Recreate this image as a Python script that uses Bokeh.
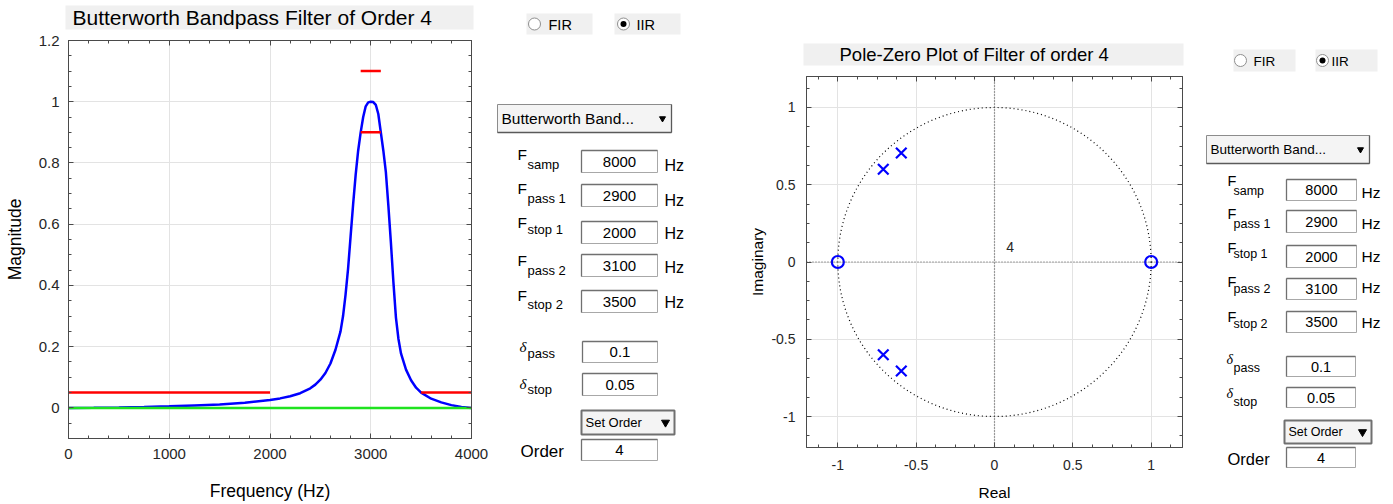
from bokeh.plotting import figure
from bokeh.layouts import row, column
from bokeh.models import Range1d, LinearAxis, FixedTicker, Span
from bokeh.core.properties import value
from bokeh.embed import file_html
from bokeh.resources import INLINE

FONT = "Liberation Sans"
SERIF = "Liberation Serif"
AX = "#4a4a4a"
TICKC = "#262626"
GRIDC = "#e3e3e3"

# ---------------- data: magnitude response ----------------
freq_hz = [0, 250, 500, 750, 1000, 1250, 1500, 1750, 2000, 2100, 2200, 2300, 2400,
           2450, 2500, 2550, 2600, 2650, 2700, 2725, 2750, 2775, 2800, 2825, 2850,
           2875, 2900, 2925, 2950, 2975, 3000, 3025, 3050, 3075, 3100, 3125, 3150,
           3175, 3200, 3225, 3250, 3275, 3300, 3350, 3400, 3450, 3500, 3600, 3700,
           3800, 3900, 4000]
magnitude = [0.0, 0.0005, 0.0012, 0.0028, 0.005, 0.008, 0.011, 0.017, 0.026, 0.031,
             0.038, 0.048, 0.064, 0.076, 0.092, 0.114, 0.145, 0.190, 0.250, 0.300,
             0.370, 0.455, 0.560, 0.665, 0.760, 0.840, 0.900, 0.950, 0.985, 0.998,
             1.000, 0.999, 0.990, 0.960, 0.900, 0.840, 0.770, 0.660, 0.540, 0.410,
             0.295, 0.225, 0.178, 0.125, 0.090, 0.066, 0.050, 0.030, 0.018, 0.009,
             0.003, 0.0]
pass_band_hz = [2900, 3100]
pass_upper = 1.1
pass_lower = 0.9
stop1_hz = [0, 2000]
stop2_hz = [3500, 4000]
stop_level = 0.05
zero_line_hz = [0, 4000]
zero_line_mag = [0, 0]

x1_ticks = [0, 1000, 2000, 3000, 4000]
x1_tick_labels = ["0", "1000", "2000", "3000", "4000"]
x1_minor = [200, 400, 600, 800, 1200, 1400, 1600, 1800, 2200, 2400, 2600, 2800,
            3200, 3400, 3600, 3800]
y1_ticks = [0, 0.2, 0.4, 0.6, 0.8, 1.0, 1.2]
y1_tick_labels = ["0", "0.2", "0.4", "0.6", "0.8", "1", "1.2"]
y1_minor = [-0.05, 0.05, 0.1, 0.15, 0.25, 0.3, 0.35, 0.45, 0.5, 0.55, 0.65, 0.7, 0.75,
            0.85, 0.9, 0.95, 1.05, 1.1, 1.15]

# ---------------- data: pole-zero ----------------
pole_re = [-0.71, -0.595, -0.71, -0.595]
pole_im = [0.60, 0.705, -0.60, -0.705]
zero_re = [-1.0, 1.0]
zero_im = [0.0, 0.0]
zero_mult_text = "4"
zero_mult_re = 0.1
zero_mult_im = 0.1
pz_ticks = [-1, -0.5, 0, 0.5, 1]
pz_tick_labels = ["-1", "-0.5", "0", "0.5", "1"]
pz_minor = [-1.125, -0.875, -0.75, -0.625, -0.375, -0.25, -0.125, 0.125, 0.25, 0.375,
            0.625, 0.75, 0.875, 1.125]

# ---------------- control panel texts ----------------
title_mag = "Butterworth Bandpass Filter of Order 4"
title_pz = "Pole-Zero Plot of Filter of order 4"
filter_types = ["FIR", "IIR"]
selected_type = "IIR"
design_choice = "Butterworth Band..."
param_main = ["F", "F", "F", "F", "F"]
param_subs = ["samp", "pass 1", "stop 1", "pass 2", "stop 2"]
param_values = ["8000", "2900", "2000", "3100", "3500"]
param_unit = "Hz"
delta_subs = ["pass", "stop"]
delta_values = ["0.1", "0.05"]
order_mode = "Set Order"
order_label = "Order"
order_value = "4"


def no_align(p):
    if hasattr(p, "frame_align"):
        p.frame_align = False


def style_axis(ax, ticker, labels_map, tick_fs, show_labels, label="", label_fs="16px",
               standoff=8, label_standoff=10):
    ax.ticker = ticker
    ax.axis_line_color = AX
    ax.axis_line_width = 1
    ax.major_tick_in = 5
    ax.major_tick_out = 0
    ax.minor_tick_in = 3
    ax.minor_tick_out = 0
    ax.major_tick_line_color = AX
    ax.minor_tick_line_color = AX
    if show_labels:
        ax.major_label_overrides = labels_map
        ax.major_label_text_font = FONT
        ax.major_label_text_font_size = tick_fs
        ax.major_label_text_color = TICKC
        ax.major_label_standoff = standoff
        ax.axis_label = label
        ax.axis_label_text_font = FONT
        ax.axis_label_text_font_size = label_fs
        ax.axis_label_text_font_style = "normal"
        ax.axis_label_text_color = "#000000"
        ax.axis_label_standoff = label_standoff
    else:
        ax.major_label_overrides = {t: "" for t in labels_map}
        ax.major_label_text_font_size = "0px"
        ax.major_label_standoff = 0
        ax.axis_label = None


def data_fig(width, height, xr, yr, borders, xt, xlabels, xminor, yt, ylabels, yminor,
             tick_fs, label_fs, xlabel, ylabel, xs, xls, ys, yls):
    p = figure(width=width, height=height, x_range=Range1d(*xr), y_range=Range1d(*yr),
               output_backend="svg", toolbar_location=None)
    no_align(p)
    p.min_border_left, p.min_border_right, p.min_border_top, p.min_border_bottom = borders
    p.outline_line_color = AX
    p.background_fill_color = "white"
    p.border_fill_color = "white"
    xtk = FixedTicker(ticks=xt, minor_ticks=xminor)
    ytk = FixedTicker(ticks=yt, minor_ticks=yminor)
    style_axis(p.xaxis[0], xtk, dict(zip(xt, xlabels)), tick_fs, True, xlabel, label_fs, xs, xls)
    style_axis(p.yaxis[0], ytk, dict(zip(yt, ylabels)), tick_fs, True, ylabel, label_fs, ys, yls)
    top = LinearAxis()
    style_axis(top, xtk, dict(zip(xt, xlabels)), tick_fs, False)
    p.add_layout(top, "above")
    right = LinearAxis()
    style_axis(right, ytk, dict(zip(yt, ylabels)), tick_fs, False)
    p.add_layout(right, "right")
    p.xgrid.ticker = xtk
    p.ygrid.ticker = ytk
    p.xgrid.grid_line_color = GRIDC
    p.ygrid.grid_line_color = GRIDC
    return p


def canvas(x0, x1, y0, y1):
    c = figure(width=x1 - x0, height=y1 - y0, x_range=Range1d(x0, x1), y_range=Range1d(y1, y0),
               output_backend="svg", toolbar_location=None, x_axis_type=None, y_axis_type=None)
    no_align(c)
    c.min_border_left = c.min_border_right = c.min_border_top = c.min_border_bottom = 0
    c.outline_line_color = None
    c.background_fill_color = "white"
    c.border_fill_color = "white"
    return c


def txt(c, x, y, s, size, align="left", font=FONT, style="normal", color="#000000"):
    c.text(x=[x], y=[y], text=[s], text_font=value(font), text_font_size=f"{size}px",
           text_align=align, text_baseline="middle", text_color=color, text_font_style=style)


def tbox(c, x0, y0, x1, y1, s, size):
    c.quad(left=[x0], right=[x1], top=[y0], bottom=[y1], fill_color="white",
           line_color="#a8a8a8", line_width=1)
    c.segment(x0=[x0, x0], y0=[y0, y0], x1=[x1, x0], y1=[y0, y1], line_color="#707070",
              line_width=1.3)
    txt(c, (x0 + x1) / 2, (y0 + y1) / 2, s, size, align="center")


def dropdown(c, x0, y0, x1, y1, s, size, arrow, thick=False):
    c.quad(left=[x0], right=[x1], top=[y0], bottom=[y1], fill_color="#f4f4f4",
           line_color="#707070" if thick else "#8c8c8c", line_width=2 if thick else 1)
    if not thick:
        c.segment(x0=[x0, x1], y0=[y1, y0], x1=[x1, x1], y1=[y1, y1], line_color="#5a5a5a",
                  line_width=1.3)
    mid = (y0 + y1) / 2
    txt(c, x0 + 4, mid, s, size)
    c.scatter(x=[x1 - 9], y=[mid], marker="inverted_triangle", size=arrow,
              fill_color="black", line_color="black")


def radio(c, x0, y0, x1, y1, cx, label, selected, size, gap):
    cy = (y0 + y1) / 2
    c.quad(left=[x0], right=[x1], top=[y0], bottom=[y1], fill_color="#f0f0f0", line_color=None)
    c.scatter(x=[cx], y=[cy], marker="circle", size=12, fill_color="white",
              line_color="#8f8f8f", line_width=1)
    if selected:
        c.scatter(x=[cx], y=[cy], marker="circle", size=6, fill_color="black", line_color=None)
    txt(c, cx + gap, cy + 0.5, label, size)


# ================= left: magnitude plot =================
h1 = canvas(0, 490, 0, 30)
h1.quad(left=[65], right=[473], top=[5], bottom=[29], fill_color="#f0f0f0", line_color=None)
txt(h1, 72, 17, title_mag, 21)

p1 = data_fig(490, 474, (0, 4000), (-0.1, 1.2), (68, 19, 10, 66),
              x1_ticks, x1_tick_labels, x1_minor, y1_ticks, y1_tick_labels, y1_minor,
              "15px", "17.5px", "Frequency (Hz)", "Magnitude", 10, 19, 9, 11)
p1.line(freq_hz, magnitude, line_color="#0000ff", line_width=2.5)
p1.line(pass_band_hz, [pass_upper, pass_upper], line_color="#ff0000", line_width=2.5)
p1.line(pass_band_hz, [pass_lower, pass_lower], line_color="#ff0000", line_width=2.5)
p1.line(stop1_hz, [stop_level, stop_level], line_color="#ff0000", line_width=2.5)
p1.line(stop2_hz, [stop_level, stop_level], line_color="#ff0000", line_width=2.5)
p1.line(zero_line_hz, zero_line_mag, line_color="#1fe31f", line_width=2.5)

# ================= left controls =================
c1 = canvas(490, 740, 0, 504)
radio(c1, 526, 13, 592, 34, 534, filter_types[0], selected_type == filter_types[0], 14.5, 14)
radio(c1, 614, 13, 680, 34, 623, filter_types[1], selected_type == filter_types[1], 14.5, 13)
dropdown(c1, 497, 104, 671, 132, design_choice, 15.5, 6)
box_rows1 = [(150, 172), (184, 206), (221, 243), (254, 276), (290, 312)]
f_cy1 = [154, 188, 222, 260, 295]
sub_cy1 = [164, 198, 229, 270, 304]
hz_cy1 = [165, 200, 233, 267, 302]
for i in range(5):
    txt(c1, 517, f_cy1[i], param_main[i], 15.5)
    txt(c1, 527, sub_cy1[i], param_subs[i], 13)
    tbox(c1, 581, box_rows1[i][0], 657, box_rows1[i][1], param_values[i], 15)
    txt(c1, 664, hz_cy1[i], param_unit, 16)
d_rows1 = [(341, 362), (373, 395)]
d_cy1 = [346, 383]
dsub_cy1 = [353, 389]
for i in range(2):
    txt(c1, 519, d_cy1[i], "\u03b4", 15, font=SERIF, style="italic")
    txt(c1, 527, dsub_cy1[i], delta_subs[i], 13)
    tbox(c1, 582, d_rows1[i][0], 657, d_rows1[i][1], delta_values[i], 15)
dropdown(c1, 581, 410, 674, 434, order_mode, 13, 8, thick=True)
txt(c1, 520, 451, order_label, 17)
tbox(c1, 581, 439, 657, 460, order_value, 15)

# ================= right: pole-zero plot =================
h2 = canvas(740, 1190, 0, 70)
h2.quad(left=[803], right=[1183], top=[43], bottom=[65], fill_color="#f0f0f0", line_color=None)
txt(h2, 839, 54, title_pz, 18.5)

p2 = data_fig(450, 434, (-1.2, 1.2), (-1.2, 1.2), (66, 8, 6, 57),
              pz_ticks, pz_tick_labels, pz_minor, pz_ticks, pz_tick_labels, pz_minor,
              "14px", "15.5px", "Real", "Imaginary", 12, 11, 11, 2)
p2.add_layout(Span(location=0, dimension="width", line_color="#505050", line_dash="1 2",
                   line_width=1.2))
p2.add_layout(Span(location=0, dimension="height", line_color="#505050", line_dash="1 2",
                   line_width=1.2))
p2.ellipse(x=[0], y=[0], width=[2], height=[2], fill_color=None, line_color="black",
           line_dash="1 3", line_width=1.2)
p2.scatter(zero_re, zero_im, marker="circle", size=12, fill_color=None, line_color="#0000ff",
           line_width=2.2)
p2.scatter(pole_re, pole_im, marker="x", size=15, line_color="#0000ff", line_width=2.2)
p2.text(x=[zero_mult_re], y=[zero_mult_im], text=[zero_mult_text], text_font=value(FONT),
        text_font_size="14px", text_align="center", text_baseline="middle",
        text_color=TICKC)

# ================= right controls =================
c2 = canvas(1190, 1393, 0, 504)
radio(c2, 1233, 49, 1295, 71, 1240, filter_types[0], selected_type == filter_types[0], 13.5, 13)
radio(c2, 1315, 49, 1377, 71, 1322, filter_types[1], selected_type == filter_types[1], 13.5, 9)
dropdown(c2, 1206, 135, 1369, 163, design_choice, 13.5, 6)
box_rows2 = [(179, 200), (210, 232), (245, 267), (278, 299), (311, 332)]
f_cy2 = [180, 213, 247, 281, 316]
sub_cy2 = [190, 223, 253, 288, 323]
hz_cy2 = [192, 223, 256, 287, 322]
for i in range(5):
    txt(c2, 1227, f_cy2[i], param_main[i], 14.5)
    txt(c2, 1233, sub_cy2[i], param_subs[i], 12.5)
    tbox(c2, 1286, box_rows2[i][0], 1356, box_rows2[i][1], param_values[i], 14.5)
    txt(c2, 1361, hz_cy2[i], param_unit, 15.5)
d_rows2 = [(356, 376), (387, 407)]
d_cy2 = [359, 393]
dsub_cy2 = [367, 401]
for i in range(2):
    txt(c2, 1226, d_cy2[i], "\u03b4", 14, font=SERIF, style="italic")
    txt(c2, 1233, dsub_cy2[i], delta_subs[i], 12.5)
    tbox(c2, 1286, d_rows2[i][0], 1355, d_rows2[i][1], delta_values[i], 14.5)
dropdown(c2, 1284, 420, 1371, 443, order_mode, 12.5, 8, thick=True)
txt(c2, 1227, 458, order_label, 16.5)
tbox(c2, 1286, 447, 1355, 467, order_value, 14.5)

layout = row(column(h1, p1), c1, column(h2, p2), c2)
open("out.html", "w").write(file_html(layout, INLINE))
